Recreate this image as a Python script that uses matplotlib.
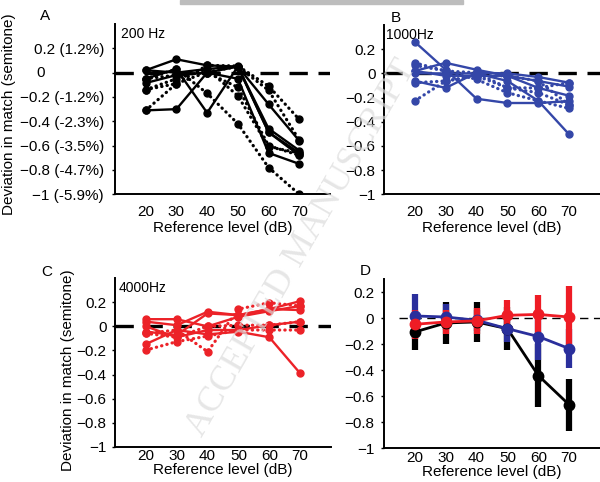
import numpy as np
import matplotlib
matplotlib.use('Agg')
import matplotlib.pyplot as plt

plt.rcParams['font.family'] = ['Liberation Sans', 'DejaVu Sans']
plt.rcParams['font.size'] = 11

# reference levels (dB)
levels = [20, 30, 40, 50, 60, 70]

# panel A, 200 Hz (semitone)
a_solid = [
    [-0.31, -0.30, 0.00, 0.05, -0.46, -0.64],
    [-0.05, 0.03, -0.33, 0.05, -0.26, -0.56],
    [0.02, 0.11, 0.06, 0.05, -0.49, -0.66],
    [-0.085, -0.02, 0.00, -0.05, -0.66, -0.75],
    [0.02, 0.00, 0.03, 0.05, -0.49, -0.68],
]
a_dotted = [
    [-0.31, -0.09, 0.06, 0.055, -0.11, -0.385],
    [-0.14, -0.09, 0.005, 0.05, -0.145, -0.555],
    [-0.05, 0.03, -0.17, -0.42, -0.78, -1.00],
    [-0.14, -0.05, 0.03, -0.19, -0.61, -0.66],
    [-0.05, -0.02, 0.00, -0.12, -0.60, -0.68],
]

# panel B, 1000 Hz
b_solid = [
    [0.26, 0.03, -0.21, -0.245, -0.245, -0.23],
    [0.02, 0.087, 0.03, -0.02, -0.063, -0.11],
    [-0.063, -0.12, 0.005, 0.00, -0.03, -0.077],
    [0.00, 0.00, 0.00, -0.063, -0.227, -0.505],
    [0.02, -0.02, -0.02, -0.02, -0.12, -0.185],
]
b_dotted = [
    [-0.227, -0.063, -0.02, -0.12, -0.16, -0.26],
    [0.087, 0.02, -0.05, -0.16, -0.227, -0.29],
    [0.066, 0.02, 0.005, -0.12, -0.12, -0.077],
    [-0.077, -0.063, -0.02, -0.02, -0.063, -0.26],
]

# panel C, 4000 Hz
c_solid = [
    [0.04, 0.01, 0.122, 0.094, 0.144, 0.21],
    [0.06, 0.06, 0.00, 0.08, 0.127, 0.17],
    [-0.044, -0.072, 0.108, 0.094, 0.144, 0.136],
    [-0.147, -0.03, -0.066, -0.044, -0.09, -0.39],
    [0.00, -0.09, -0.03, -0.03, 0.01, 0.04],
]
c_dotted = [
    [-0.058, -0.03, -0.21, 0.144, 0.197, 0.17],
    [-0.197, -0.127, -0.08, -0.03, -0.03, -0.03],
    [-0.058, -0.09, 0.00, 0.01, 0.01, 0.04],
]

# panel D, means and error bars
d_black = [-0.105, -0.036, -0.028, -0.08, -0.44, -0.665]
d_black_err = [0.14, 0.16, 0.155, 0.165, 0.245, 0.2]
d_blue = [0.018, 0.01, -0.015, -0.08, -0.14, -0.233]
d_blue_err = [0.17, 0.1, 0.08, 0.1, 0.18, 0.15]
d_red = [-0.046, -0.028, -0.02, 0.023, 0.03, 0.01]
d_red_err = [0.11, 0.09, 0.1, 0.115, 0.15, 0.24]

ticks_a = [0.2, 0, -0.2, -0.4, -0.6, -0.8, -1]
labels_a = ['0.2 (1.2%)', '', '\u22120.2 (-1.2%)', '\u22120.4 (-2.3%)',
            '\u22120.6 (-3.5%)', '\u22120.8 (-4.7%)', '\u22121 (-5.9%)']
ticks = [0.2, 0, -0.2, -0.4, -0.6, -0.8, -1]
labels = ['0.2', '0', '\u22120.2', '\u22120.4', '\u22120.6', '\u22120.8', '\u22121']

black = '#000000'
blue = '#3447a8'
red = '#ec2228'

fig = plt.figure(figsize=(6, 4.82), dpi=100)
W, H = 600.0, 482.0


def make_axes(l, r, t, b):
    return fig.add_axes([l / W, 1 - b / H, (r - l) / W, (b - t) / H])


def style(ax, ylim, pad_y=4, pad_x=6):
    ax.set_xlim(10, 80)
    ax.set_ylim(*ylim)
    ax.spines['top'].set_visible(False)
    ax.spines['right'].set_visible(False)
    ax.spines['left'].set_linewidth(1.4)
    ax.spines['bottom'].set_linewidth(1.4)
    ax.set_xticks(levels)
    ax.tick_params(axis='y', direction='out', length=2, width=1, pad=pad_y)
    ax.tick_params(axis='x', length=0, pad=pad_x)
    ax.patch.set_alpha(0)


def draw_lines(ax, solid, dotted, color):
    ax.plot([10, 80], [0, 0], color='black', lw=2.4,
            linestyle=(0, (5.5, 3.2)), zorder=1)
    for ys in solid:
        ax.plot(levels, ys, color=color, lw=1.7, marker='o', ms=5, zorder=3)
    for ys in dotted:
        ax.plot(levels, ys, color=color, lw=2.3, linestyle=(0, (0.1, 1.6)),
                dash_capstyle='round', marker='o', ms=5, zorder=3)


# A
ax = make_axes(115, 330, 24, 194.3)
draw_lines(ax, a_solid, a_dotted, black)
style(ax, (-1, 0.4), pad_y=6, pad_x=8)
ax.set_yticks(ticks_a)
ax.set_yticklabels(labels_a)
ax.text(-0.365, 0, '0', transform=ax.get_yaxis_transform(),
        ha='left', va='center')
ax.text(0.03, 0.985, '200 Hz', transform=ax.transAxes, fontsize=10, va='top')
ax.set_xlabel('Reference level (dB)', labelpad=1)
ax.set_ylabel('Deviation in match (semitone)')
ax.yaxis.set_label_coords(-0.46, 0.47)
fig.text(45 / W, 1 - 16 / H, 'A', ha='center', va='center')

# B
ax = make_axes(384, 600, 25, 194.3)
draw_lines(ax, b_solid, b_dotted, blue)
style(ax, (-1, 0.4), pad_x=8)
ax.set_yticks(ticks)
ax.set_yticklabels(labels)
ax.text(0.01, 0.985, '1000Hz', transform=ax.transAxes, fontsize=10, va='top')
ax.set_xlabel('Reference level (dB)', labelpad=1)
fig.text(396 / W, 1 - 18 / H, 'B', ha='center', va='center')

# C
ax = make_axes(115, 331, 278.3, 446.7)
draw_lines(ax, c_solid, c_dotted, red)
style(ax, (-1, 0.4), pad_x=2)
ax.set_yticks(ticks)
ax.set_yticklabels(labels)
ax.text(0.015, 0.985, '4000Hz', transform=ax.transAxes, fontsize=10, va='top')
ax.set_xlabel('Reference level (dB)', labelpad=0)
ax.set_ylabel('Deviation in match (semitone)')
ax.yaxis.set_label_coords(-0.185, 0.455)
fig.text(47 / W, 1 - 272 / H, 'C', ha='center', va='center')

# D
ax = make_axes(384, 600, 279.3, 448.3)
ax.plot([15, 80], [0, 0], color='black', lw=1, linestyle=(0, (6, 4)), zorder=1)
for ys, err, col in [(d_black, d_black_err, black),
                     (d_blue, d_blue_err, '#2a2f9c'),
                     (d_red, d_red_err, '#ee1c25')]:
    ax.errorbar(levels, ys, yerr=err, color=col, lw=2, elinewidth=4.5,
                marker='o', ms=7.5, capsize=0, zorder=3)
style(ax, (-1, 0.3), pad_y=5, pad_x=2)
ax.set_yticks(ticks)
ax.set_yticklabels(labels)
ax.set_xlabel('Reference level (dB)', labelpad=0)
fig.text(365 / W, 1 - 271 / H, 'D', ha='center', va='center')

# header bar and watermark
fig.patches.append(plt.Rectangle((180 / W, 1 - 4 / H), 283 / W, 4 / H,
                                 transform=fig.transFigure, color='#bdbdbd',
                                 zorder=5))
fig.text(302 / W, 1 - 248 / H, 'ACCEPTED MANUSCRIPT', rotation=60,
         ha='center', va='center', fontsize=26, color='#dcdcdc',
         family='Liberation Serif', zorder=10, alpha=0.7)

fig.savefig('out.png', dpi=100)
